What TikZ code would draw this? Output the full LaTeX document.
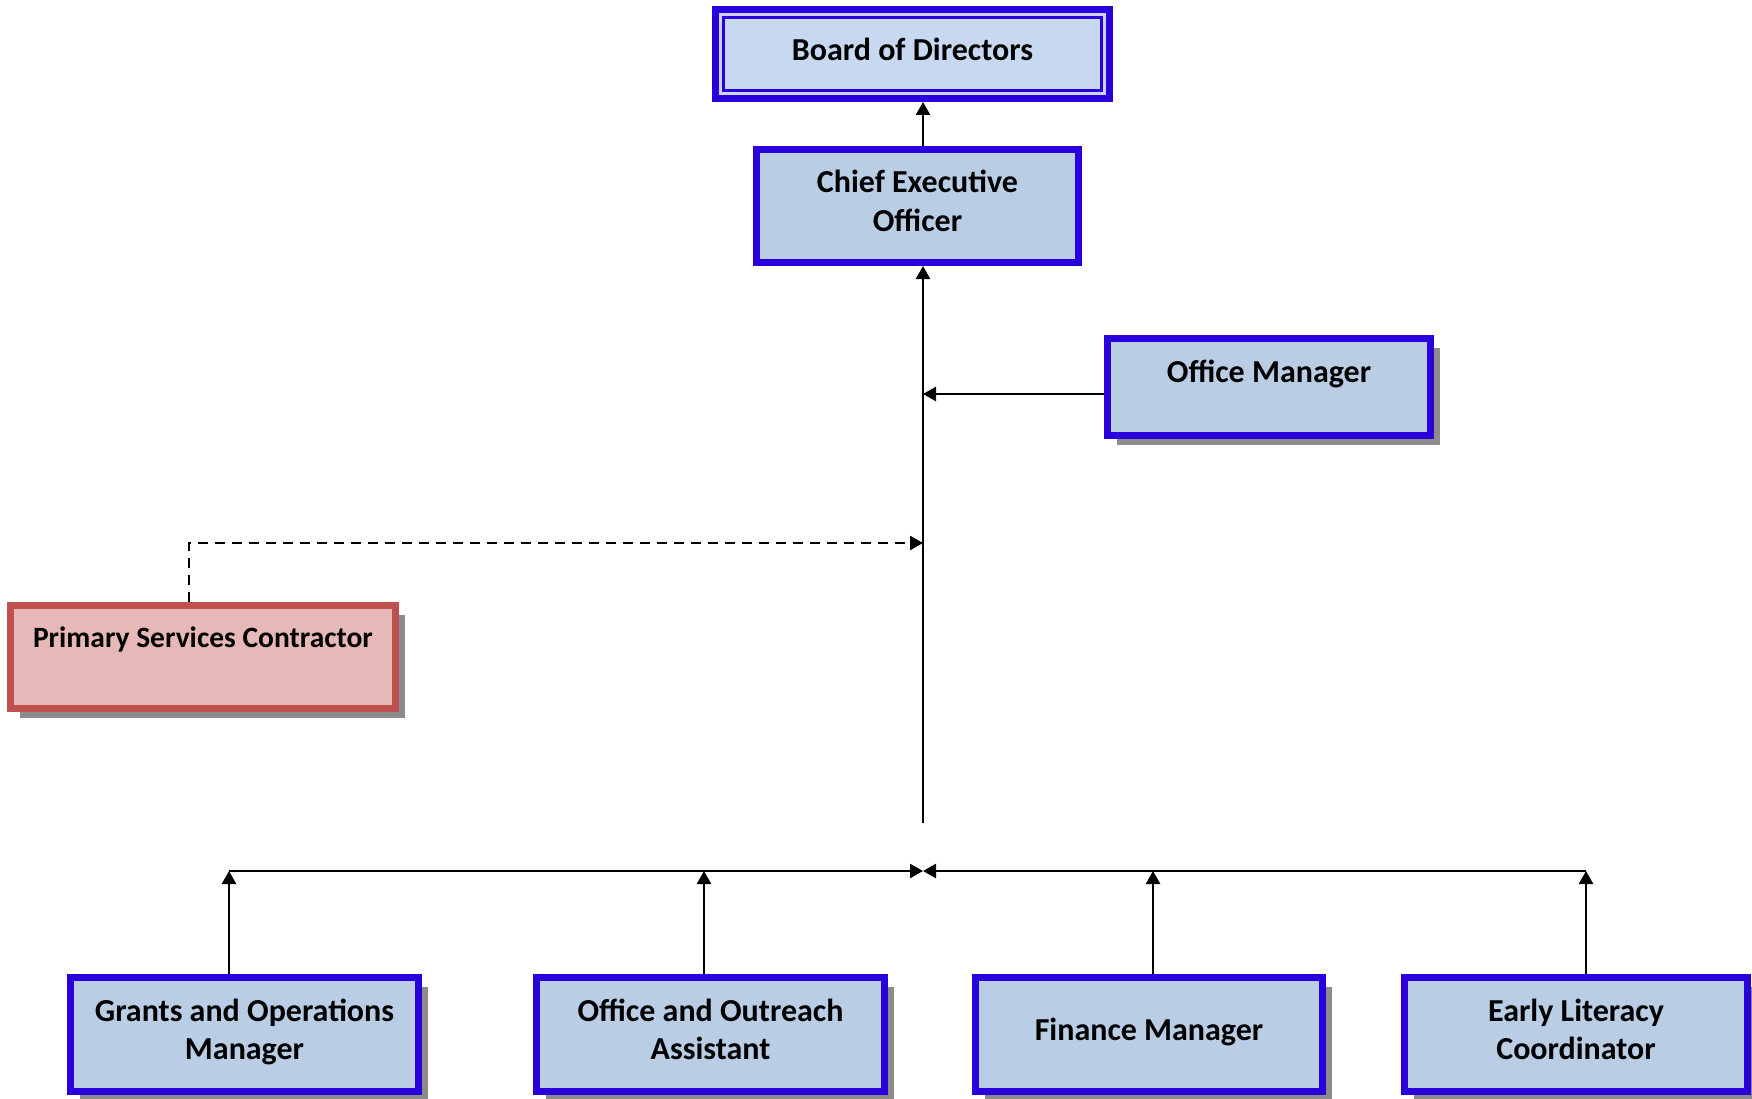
\documentclass[tikz,border=0pt]{standalone}
\usepackage{fontspec}
\setmainfont{Carlito}
\usetikzlibrary{arrows.meta,shadows,calc}
\definecolor{bblue}{RGB}{42,0,220}
\definecolor{bfill}{RGB}{185,205,229}
\definecolor{bodfill}{RGB}{198,217,241}
\definecolor{bodband}{RGB}{205,210,248}
\definecolor{rborder}{RGB}{192,80,77}
\definecolor{rfill}{RGB}{230,184,183}
\definecolor{shadowgray}{RGB}{140,140,140}
\tikzset{
  box/.style={draw=bblue, line width=7pt, fill=bfill, inner sep=0pt, align=center,
    font=\bfseries\fontsize{32}{38.5}\selectfont, text=black},
  shad/.style={drop shadow={shadow xshift=9.5pt, shadow yshift=-9.5pt, fill=shadowgray, opacity=1}},
  redbox/.style={box, draw=rborder, fill=rfill, font=\bfseries\fontsize{29.5}{38.5}\selectfont},
  twoline/.style={text height=58.5pt, text depth=8pt},
  conn/.style={line width=2.5pt, draw=black},
  arr/.style={conn, -{Triangle[width=14pt,length=13pt]}},
}
\begin{document}
\begin{tikzpicture}[x=1pt,y=-1pt]
\useasboundingbox (0,0) rectangle (1752,1099);

% nodes
\node[box, fill=bodfill, minimum width=394pt, minimum height=89pt, text height=20pt, text depth=6pt] (bod) at (912.5,54) {Board of Directors};
\draw[bodband, line width=3pt] ($(bod.north west)+(8.5pt,-8.5pt)$) rectangle ($(bod.south east)+(-8.5pt,8.5pt)$);
\draw[bblue, line width=2.5pt] ($(bod.north west)+(11.5pt,-11.5pt)$) rectangle ($(bod.south east)+(-11.5pt,11.5pt)$);

\node[box, minimum width=322pt, minimum height=113pt, text height=58.5pt, text depth=7.5pt] (ceo) at (917.5,206) {Chief Executive\\Officer};

\node[box, shad, minimum width=323pt, minimum height=97pt, text height=20pt, text depth=29pt] (om) at (1269,387) {Office Manager};

\node[redbox, shad, minimum width=385pt, minimum height=103pt, text height=20pt, text depth=39pt] (psc) at (203,657) {Primary Services Contractor};

\node[box, shad, minimum width=348pt, minimum height=114pt, twoline] (gom) at (244.5,1034.5) {Grants and Operations\\Manager};
\node[box, shad, minimum width=348pt, minimum height=114pt, twoline] (ooa) at (710.5,1034.5) {Office and Outreach\\Assistant};
\node[box, shad, minimum width=347pt, minimum height=114pt, text height=20pt, text depth=9pt] (fm) at (1149,1034.5) {Finance Manager};
\node[box, shad, minimum width=343pt, minimum height=114pt, twoline] (elc) at (1576,1034.5) {Early Literacy\\Coordinator};

% junction coordinates
\coordinate (spinebot) at (923,823);
\coordinate (omj) at (923,394);
\coordinate (pscj) at (923,543);
\coordinate (pscx) at (189,600);
\coordinate (bj) at (923,871);
\coordinate (gomj) at (229,871);
\coordinate (ooaj) at (704,871);
\coordinate (fmj) at (1153,871);
\coordinate (elcj) at (1586,871);

% connectors
\draw[arr] (ceo.north -| spinebot) -- (bod.south -| spinebot);
\draw[arr] (spinebot) -- (ceo.south -| spinebot);
\draw[arr] (om.west |- omj) -- (omj);
\draw[arr, dash pattern=on 10pt off 7pt] (psc.north -| pscx) |- (pscj);
\draw[arr] (gomj) -- (bj);
\draw[arr] (elcj) -- (bj);
\draw[arr] (gom.north -| gomj) -- (gomj);
\draw[arr] (ooa.north -| ooaj) -- (ooaj);
\draw[arr] (fm.north -| fmj) -- (fmj);
\draw[arr] (elc.north -| elcj) -- (elcj);
\end{tikzpicture}
\end{document}
